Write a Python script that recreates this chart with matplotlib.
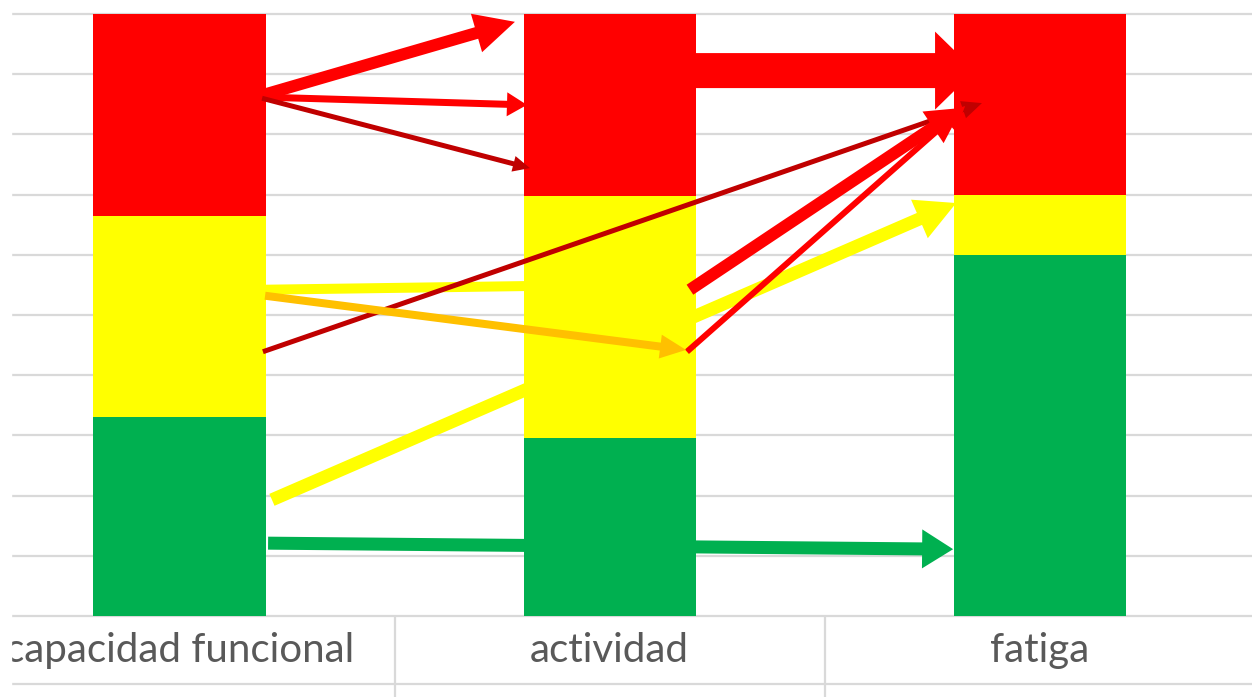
import numpy as np
import matplotlib
matplotlib.use("Agg")
import matplotlib.pyplot as plt
from matplotlib.patches import FancyArrowPatch, ArrowStyle, Rectangle

plt.rcParams['font.family'] = ['Lato', 'DejaVu Sans']

# ---- data ----
categories = ["capacidad funcional", "actividad", "fatiga"]
verde = [33, 29.5, 60]
amarillo = [33.5, 40.3, 10]
rojo = [33.5, 30.2, 30]

# flows between categories: start (category index, %) -> end (category index, %)
flow_x0 = [0.192, 0.192, 0.192, 1.000, 0.194, 1.187, 1.180, 0.199, 0.199, 0.215, 0.206]
flow_y0 = [86.5, 86.2, 86.0, 90.6, 43.9, 54.2, 43.9, 54.2, 53.2, 19.3, 12.1]
flow_x1 = [0.780, 0.808, 0.815, 1.850, 1.866, 1.820, 1.827, 1.000, 1.178, 1.806, 1.799]
flow_y1 = [98.7, 84.9, 74.4, 90.6, 85.2, 84.4, 84.7, 55.0, 44.2, 68.6, 11.1]

# styles for each flow (pixels: tail width, head width, head length)
flow_color = ["#FF0000", "#FF0000", "#C00000", "#FF0000", "#C00000", "#FF0000",
              "#FF0000", "#FFFF00", "#FFC000", "#FFFF00", "#00B050"]
flow_tw = [12, 7, 5, 35, 5, 12, 6, 10, 8, 13, 13]
flow_hw = [40, 24, 16, 78, 18, 38, 24, 30, 24, 42, 39]
flow_hl = [40, 20, 17, 40, 20, 35, 24, 30, 26, 40, 31]
flow_front = [True, True, True, False, True, True, True, False, True, False, False]

W, H = 1252, 697
fig = plt.figure(figsize=(W / 100, H / 100), dpi=100)
ax = fig.add_axes([0, (H - 616) / H, 1, (616 - 14) / H])
ax.set_xlim(-0.4174, 2.494)
ax.set_ylim(0, 100)
ax.axis("off")

x = np.arange(len(categories))
grey = "#D9D9D9"

# gridlines and table-like category axis
ax.hlines(np.arange(0, 101, 10), -0.392, 2.6, color=grey, lw=1.6, zorder=0, clip_on=False)
ax.hlines(-11.3, -0.392, 2.6, color=grey, lw=1.6, zorder=0, clip_on=False)
ax.vlines([0.5, 1.5], 0, -14, color=grey, lw=1.6, zorder=0, clip_on=False)

# stacked bars
ax.bar(x, verde, 0.4, color="#00B050", lw=0, zorder=2)
ax.bar(x, amarillo, 0.4, bottom=verde, color="#FFFF00", lw=0, zorder=2)
ax.bar(x, rojo, 0.4, bottom=np.add(verde, amarillo), color="#FF0000", lw=0, zorder=2)

for i, lab in enumerate(categories):
    ax.text(x[i], -5.65, lab, ha="center", va="center", fontsize=29,
            color="#595959", clip_on=False)

# arrows
px2pt = 0.72
for i in range(len(flow_x0)):
    style = ArrowStyle.Simple(head_length=flow_hl[i] * px2pt,
                              head_width=flow_hw[i] * px2pt,
                              tail_width=flow_tw[i] * px2pt)
    arr = FancyArrowPatch((flow_x0[i], flow_y0[i]), (flow_x1[i], flow_y1[i]),
                          arrowstyle=style, mutation_scale=1, color=flow_color[i],
                          lw=0, shrinkA=0, shrinkB=0,
                          zorder=3 if flow_front[i] else 1, clip_on=False)
    ax.add_patch(arr)

# left edge is cut off in the source picture
fig.patches.append(Rectangle((0, 0), 11 / W, 1, transform=fig.transFigure,
                             color="white", zorder=10))

fig.savefig("out.png", dpi=100)
